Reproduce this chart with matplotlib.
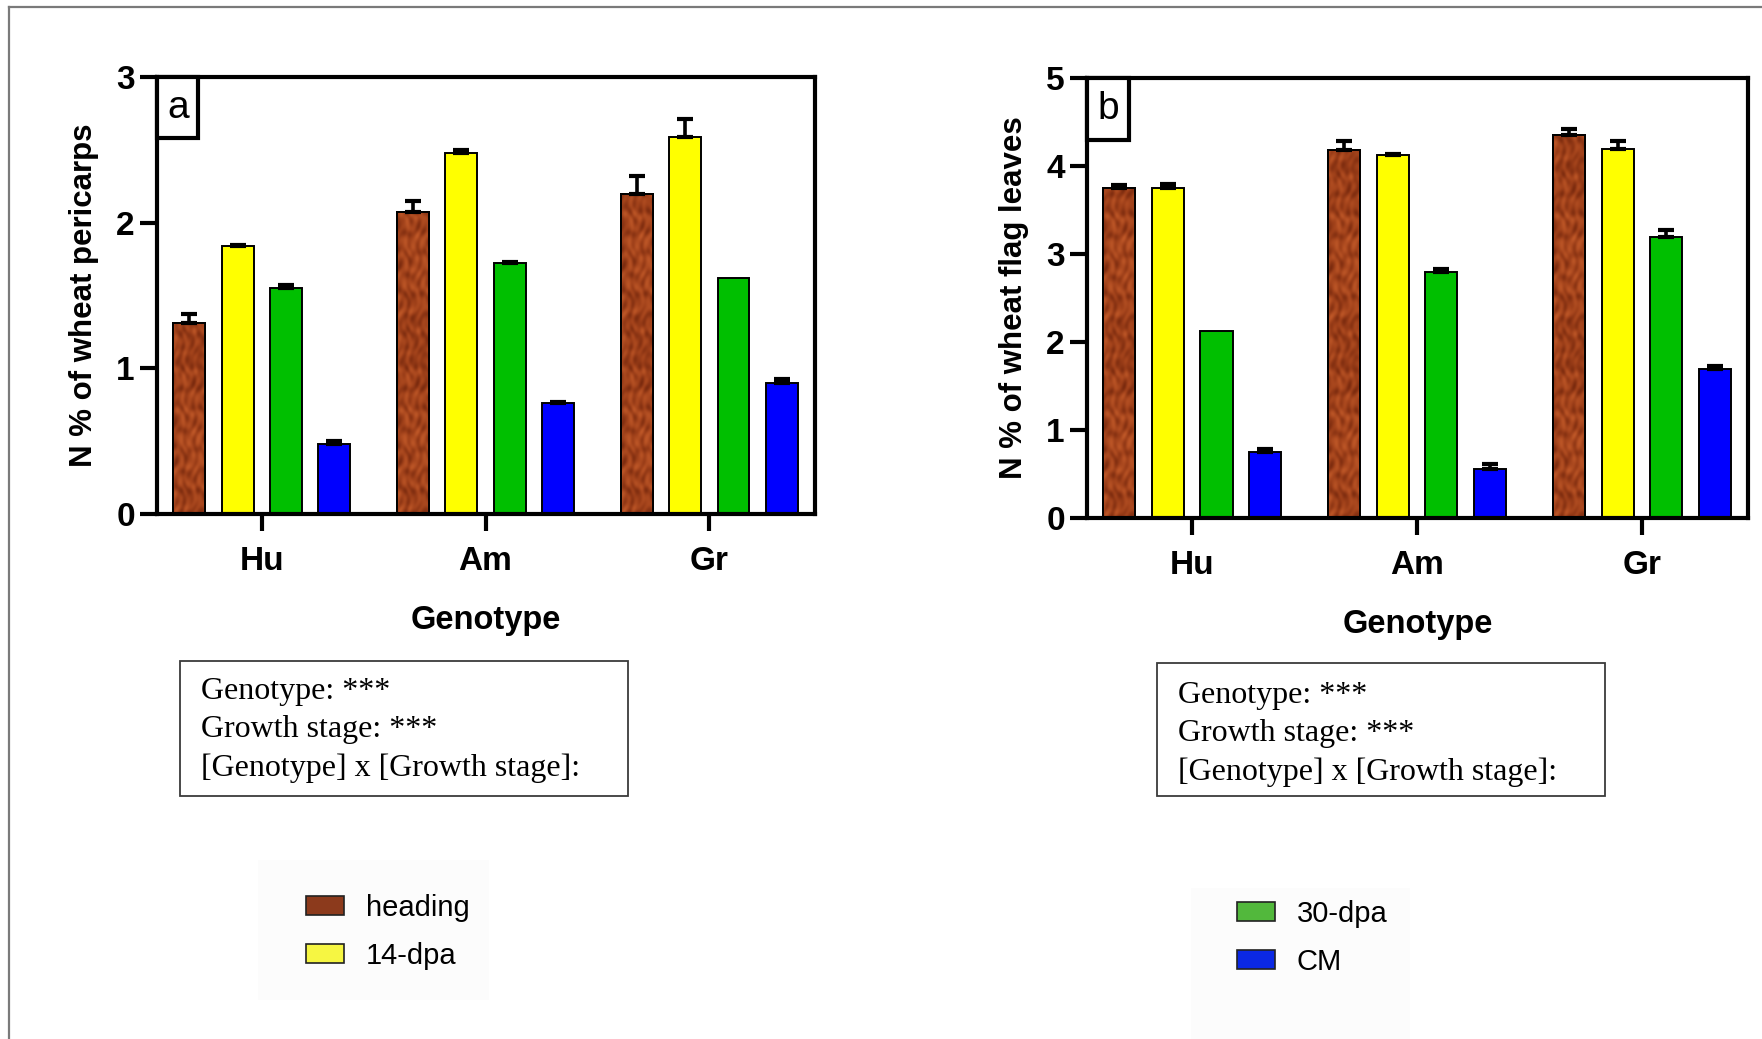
import numpy as np
import matplotlib
matplotlib.use("Agg")
import matplotlib.pyplot as plt
from matplotlib.patches import Rectangle, Patch
from matplotlib.colors import LinearSegmentedColormap

genotypes = ["Hu", "Am", "Gr"]
stages = ["heading", "14-dpa", "30-dpa", "CM"]

# N % of wheat pericarps (mean, upper error)
peri_heading = [1.31, 2.07, 2.20]
peri_14dpa = [1.84, 2.48, 2.59]
peri_30dpa = [1.55, 1.72, 1.62]
peri_cm = [0.48, 0.76, 0.90]
peri_heading_err = [0.06, 0.08, 0.12]
peri_14dpa_err = [0.01, 0.02, 0.12]
peri_30dpa_err = [0.02, 0.01, 0.0]
peri_cm_err = [0.02, 0.01, 0.03]

# N % of wheat flag leaves (mean, upper error)
flag_heading = [3.75, 4.18, 4.35]
flag_14dpa = [3.75, 4.12, 4.19]
flag_30dpa = [2.13, 2.79, 3.19]
flag_cm = [0.75, 0.56, 1.69]
flag_heading_err = [0.03, 0.10, 0.07]
flag_14dpa_err = [0.04, 0.02, 0.09]
flag_30dpa_err = [0.0, 0.04, 0.08]
flag_cm_err = [0.03, 0.05, 0.04]

bar_colors = ["#9c3f1b", "#ffff00", "#00bf00", "#0000ff"]
legend_colors = ["#8c3a1c", "#f6f642", "#52b83c", "#0b28e4"]

W, H = 1762, 1039
fig = plt.figure(figsize=(W / 100, H / 100), dpi=100)
fig.patch.set_facecolor("white")

sans = "Liberation Sans"
serif = "Liberation Serif"

# mottled brown fill used for the heading bars
brown = LinearSegmentedColormap.from_list("brown", ["#7a2a0e", "#a0411a", "#bf5828"])
gx, gy = np.meshgrid(np.linspace(0, 1, 60), np.linspace(0, 1, 600))
tex = (np.sin(gx * 11 + 2.5 * np.sin(gy * 70)) * np.cos(gy * 55 + 2 * np.sin(gx * 9))
       + 0.5 * np.sin(gy * 140 + gx * 6) * np.sin(gx * 17))


def box(x0, y0, x1, y1):
    return [x0 / W, 1 - y1 / H, (x1 - x0) / W, (y1 - y0) / H]


def panel(rect, series, errors, ymax, ylabel, letter):
    ax = fig.add_axes(rect)
    x = np.arange(len(genotypes))
    width = 0.1425
    step = 0.216
    for i, (vals, errs) in enumerate(zip(series, errors)):
        pos = x + (i - 1.5) * step
        bars = ax.bar(pos, vals, width, color=bar_colors[i], edgecolor="black",
                      linewidth=1.4, zorder=2)
        if i == 0:
            for b in bars:
                im = ax.imshow(tex, cmap=brown, aspect="auto", zorder=2.1,
                               extent=(b.get_x(), b.get_x() + b.get_width(), 0, ymax),
                               interpolation="bicubic")
                im.set_clip_path(b)
            ax.bar(pos, vals, width, fill=False, edgecolor="black", linewidth=1.4, zorder=2.5)
        errs = np.array(errs)
        keep = errs > 0
        ax.errorbar(pos[keep], np.array(vals)[keep],
                    yerr=[np.zeros(keep.sum()), errs[keep]], fmt="none",
                    ecolor="black", elinewidth=2.6, capsize=5.5, capthick=3, zorder=3)
    ax.set_xlim(-0.468, 2.472)
    ax.set_ylim(0, ymax)
    ax.set_yticks(range(ymax + 1))
    ax.set_xticks(x)
    ax.set_xticklabels(genotypes)
    for s in ax.spines.values():
        s.set_linewidth(3)
    ax.tick_params(axis="both", width=3, length=12, labelsize=24, pad=4)
    ax.tick_params(axis="x", pad=11)
    for t in ax.get_xticklabels() + ax.get_yticklabels():
        t.set_fontweight("bold")
        t.set_family(sans)
    ax.set_ylabel(ylabel, fontsize=22.5, fontweight="bold", family=sans, labelpad=12)
    ax.set_xlabel("Genotype", fontsize=23.5, fontweight="bold", family=sans, labelpad=20)
    ax.add_patch(Rectangle((0, 0.86), 0.063, 0.14, transform=ax.transAxes,
                           facecolor="white", edgecolor="black", linewidth=3, zorder=5,
                           clip_on=False))
    ax.text(0.0315, 0.93, letter, transform=ax.transAxes, ha="center", va="center",
            fontsize=28, family=sans, zorder=6)
    return ax


panel(box(157, 77, 815, 514),
      [peri_heading, peri_14dpa, peri_30dpa, peri_cm],
      [peri_heading_err, peri_14dpa_err, peri_30dpa_err, peri_cm_err],
      3, "N % of wheat pericarps", "a")
panel(box(1087, 78, 1748, 518),
      [flag_heading, flag_14dpa, flag_30dpa, flag_cm],
      [flag_heading_err, flag_14dpa_err, flag_30dpa_err, flag_cm_err],
      5, "N % of wheat flag leaves", "b")

# ANOVA summary boxes
stats_lines = ["Genotype: ***", "Growth stage: ***", "[Genotype] x [Growth stage]:"]
for (x0, y0, x1, y1, tx, ty) in [(180, 661, 628, 796, 201, 692),
                                  (1157, 663, 1605, 796, 1178, 696)]:
    fig.add_artist(Rectangle((x0 / W, 1 - y1 / H), (x1 - x0) / W, (y1 - y0) / H,
                             transform=fig.transFigure, facecolor="none",
                             edgecolor="#3a3a3a", linewidth=1.3))
    for k, line in enumerate(stats_lines):
        fig.text(tx / W, 1 - (ty + 38 * k) / H, line, ha="left", va="center",
                 fontsize=23, family=serif)

# faint backing behind the legends
for (x0, y0, x1, y1) in [(258, 860, 489, 1000), (1191, 888, 1410, 1039)]:
    fig.add_artist(Rectangle((x0 / W, 1 - y1 / H), (x1 - x0) / W, (y1 - y0) / H,
                             transform=fig.transFigure, facecolor="#fcfcfc",
                             edgecolor="none"))

handles = [Patch(facecolor=legend_colors[i], edgecolor="#222222", linewidth=1.2, label=stages[i])
           for i in range(4)]
for hs, (lx, ly) in [(handles[:2], (306, 894)), (handles[2:], (1237, 900))]:
    leg = fig.legend(handles=hs, loc="upper left", bbox_to_anchor=(lx / W, 1 - ly / H),
                     frameon=False, borderpad=0, borderaxespad=0, handlelength=1.3,
                     handleheight=0.65, handletextpad=0.75, labelspacing=0.68,
                     prop={"family": sans, "size": 21})

# outer frame lines (top and left)
fig.add_artist(plt.Line2D([9 / W, 1], [1 - 7 / H, 1 - 7 / H], transform=fig.transFigure,
                          color="#7a7a7a", linewidth=1.6))
fig.add_artist(plt.Line2D([9 / W, 9 / W], [0, 1 - 7 / H], transform=fig.transFigure,
                          color="#7a7a7a", linewidth=1.6))

fig.savefig("out.png", dpi=100)
